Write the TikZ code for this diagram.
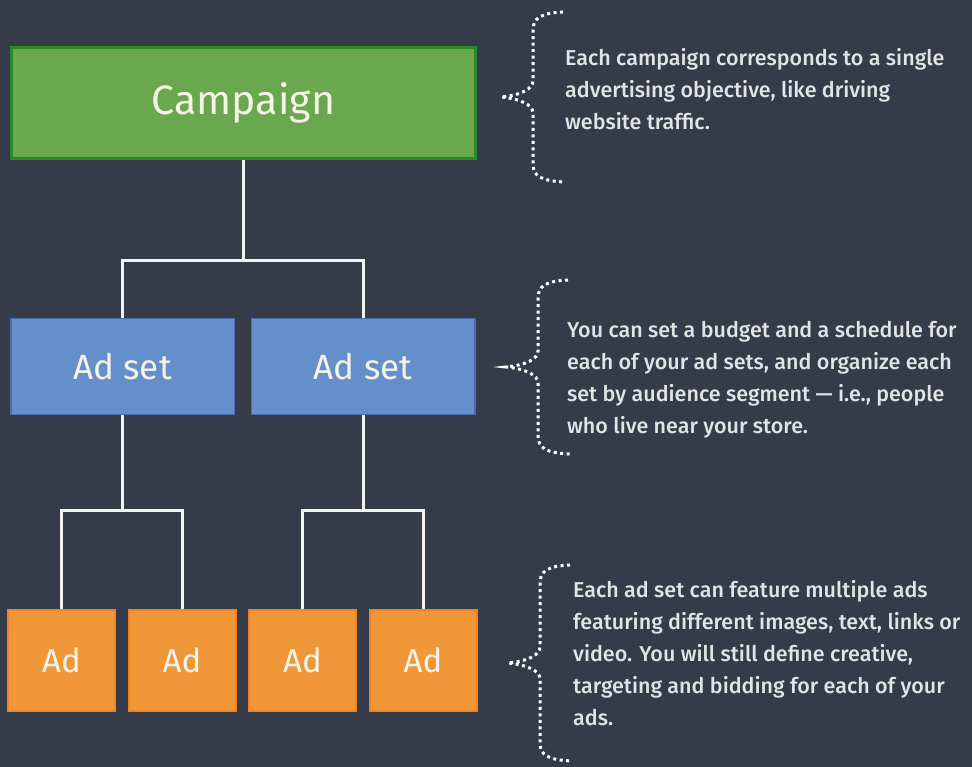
\documentclass[tikz,border=0pt]{standalone}
\usepackage{fontspec}
\setmainfont{Fira Sans}
\newfontfamily\notefont{Fira Sans Medium}
\definecolor{bg}{HTML}{363B4A}
\definecolor{campfill}{HTML}{6AA84F}
\definecolor{campline}{HTML}{2E8A26}
\definecolor{setfill}{HTML}{658FCB}
\definecolor{setline}{HTML}{4A6FA8}
\definecolor{adfill}{HTML}{F0973A}
\definecolor{adline}{HTML}{F5821F}
\definecolor{boxtext}{HTML}{F4F4E6}
\definecolor{notetext}{HTML}{E2E3E6}
\tikzstyle{campaign}=[draw=campline, line width=3pt, fill=campfill, minimum width=464pt, minimum height=111pt, text=boxtext, font=\fontsize{41}{46}\selectfont]
\tikzstyle{adset}=[draw=setline, line width=1.5pt, fill=setfill, minimum width=223.5pt, minimum height=95.5pt, text=boxtext, font=\fontsize{35}{40}\selectfont]
\tikzstyle{ad}=[draw=adline, line width=2pt, fill=adfill, minimum width=107pt, minimum height=101pt, text=boxtext, font=\fontsize{33}{38}\selectfont]
\tikzstyle{link}=[draw=white!94!bg, line width=3pt]
\tikzstyle{dotbrace}=[draw=white, line width=3pt, dash pattern=on 3pt off 3.5pt]
\tikzstyle{note}=[anchor=north west, align=left, text=notetext, inner sep=0pt, font=\notefont\fontsize{21.5}{32}\selectfont]

\begin{document}
\begin{tikzpicture}[x=1pt, y=-1pt]
\fill[bg] (0,0) rectangle (972,767);
% the boxes
\node[campaign] (camp) at (243.5,103) {Campaign};
\node[adset] (set1) at (122.5,366.5) {Ad set};
\node[adset] (set2) at (363,366.5) {Ad set};
\foreach \x [count=\i] in {61.5,182,302.5,423}
  \node[ad] (ad\i) at (\x,660.5) {Ad};
% tree lines
\coordinate (split0) at (camp.south |- 0,261);
\draw[link] (camp.south) -- (split0) -| (set1.north);
\draw[link] (split0) -| (set2.north);
\coordinate (split1) at (set1.south |- 0,510);
\draw[link] (set1.south) -- (split1) -| (ad1.north);
\draw[link] (split1) -| (ad2.north);
\coordinate (split2) at (set2.south |- 0,510);
\draw[link] (set2.south) -- (split2) -| (ad3.north);
\draw[link] (split2) -| (ad4.north);
% dotted braces
\foreach \vx/\ty/\h in {533/97/85, 538/367/87, 540/663/98}
\draw[dotbrace] ({\vx+30},{\ty-\h}) .. controls ({\vx+8},{\ty-\h+1}) and (\vx,{\ty-\h+6}) .. (\vx,{\ty-\h+18})
  -- (\vx,{\ty-16}) .. controls (\vx,{\ty-8}) and ({\vx-12},{\ty-2}) .. ({\vx-32},\ty)
  .. controls ({\vx-12},{\ty+2}) and (\vx,{\ty+8}) .. (\vx,{\ty+16})
  -- (\vx,{\ty+\h-18}) .. controls (\vx,{\ty+\h-6}) and ({\vx+8},{\ty+\h-1}) .. ({\vx+32},{\ty+\h});
% notes
\node[note] (note1) at (565,48) {Each campaign corresponds to a single\\advertising objective, like driving\\website traffic.};
\node[note] (note2) at (567,321) {You can set a budget and a schedule for\\each of your ad sets, and organize each\\set by audience segment — i.e., people\\who live near your store.};
\node[note] (note3) at (573,580) {Each ad set can feature multiple ads\\featuring different images, text, links or\\video. You will still define creative,\\targeting and bidding for each of your\\ads.};
\end{tikzpicture}
\end{document}
